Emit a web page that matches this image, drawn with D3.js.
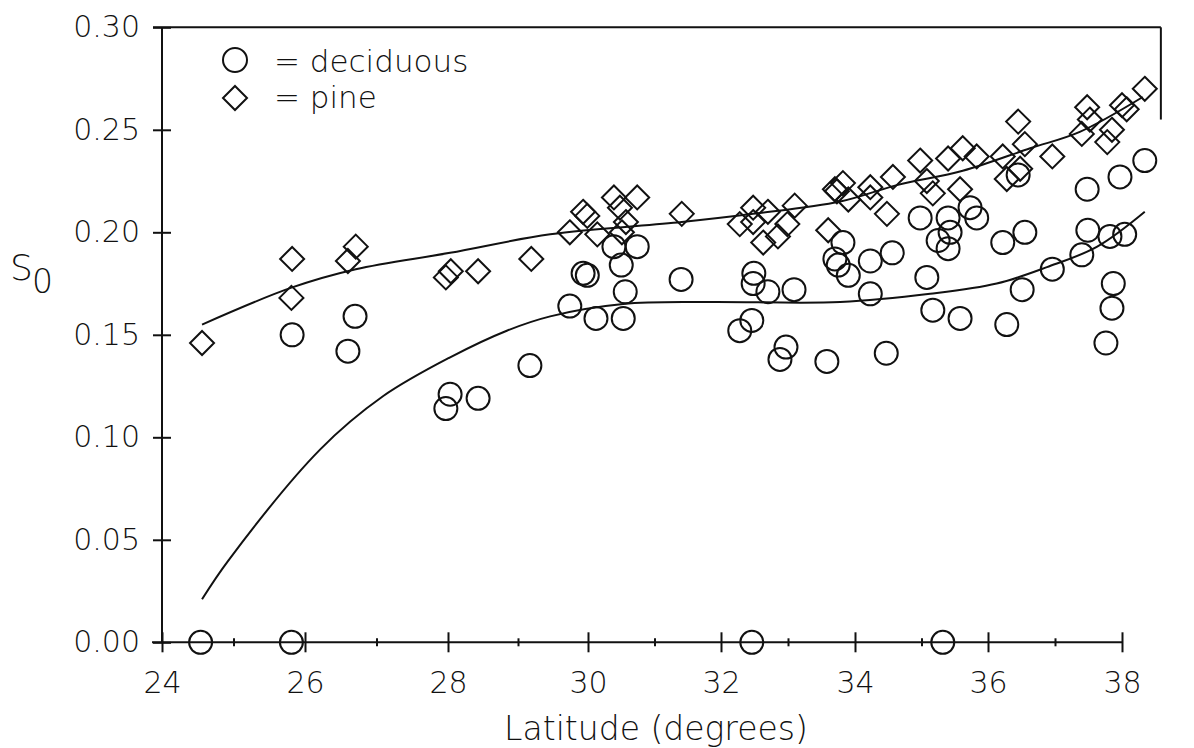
<!DOCTYPE html>
<html>
<head>
<meta charset="utf-8">
<script src="https://cdn.jsdelivr.net/npm/d3@7"></script>
<style>
  html, body { margin: 0; background: #fff; }
  text { font-family: "DejaVu Sans", sans-serif; font-weight: 200; fill: #111; }
</style>
</head>
<body>
<svg id="chart" width="1194" height="748"></svg>
<script>
// Deciduous stands: latitude (degrees) and S0
const decidLat = [24.54, 25.81, 32.46, 35.32, 25.82, 26.60, 26.70, 27.97, 28.03, 28.43,
  29.17, 29.74, 29.93, 29.99, 30.12, 30.39, 30.74, 30.50, 30.56, 30.53,
  31.40, 32.28, 32.49, 32.48, 32.70, 32.46, 32.97, 32.88, 33.09, 33.58,
  33.82, 33.70, 33.75, 33.90, 34.23, 34.23, 34.56, 34.47, 34.98, 35.40,
  35.43, 35.25, 35.40, 35.08, 35.73, 35.83, 36.22, 36.55, 36.45, 35.17,
  35.58, 36.28, 36.51, 36.96, 37.40, 37.49, 37.82, 38.04, 37.48, 37.97,
  38.34, 37.87, 37.85, 37.76];
const decidS0 = [0.000, 0.000, 0.000, 0.000, 0.150, 0.142, 0.159, 0.114, 0.121, 0.119,
  0.135, 0.164, 0.180, 0.179, 0.158, 0.193, 0.193, 0.184, 0.171, 0.158,
  0.177, 0.152, 0.180, 0.175, 0.171, 0.157, 0.144, 0.138, 0.172, 0.137,
  0.195, 0.187, 0.184, 0.179, 0.186, 0.170, 0.190, 0.141, 0.207, 0.207,
  0.200, 0.196, 0.192, 0.178, 0.212, 0.207, 0.195, 0.200, 0.228, 0.162,
  0.158, 0.155, 0.172, 0.182, 0.189, 0.201, 0.198, 0.199, 0.221, 0.227,
  0.235, 0.175, 0.163, 0.146];

// Pine stands: latitude (degrees) and S0
const pineLat = [24.56, 25.81, 25.82, 26.60, 26.71, 27.97, 28.04, 28.43, 29.19, 29.74,
  29.93, 29.99, 30.14, 30.39, 30.48, 30.74, 30.57, 30.51, 31.41, 32.28,
  32.48, 32.48, 32.70, 33.10, 32.99, 32.85, 32.63, 33.60, 33.70, 33.82,
  33.73, 33.90, 34.23, 34.23, 34.57, 34.48, 34.98, 35.08, 35.17, 35.40,
  35.62, 35.83, 35.58, 36.22, 36.45, 36.55, 36.48, 36.28, 36.96, 37.48,
  37.52, 37.40, 37.78, 38.00, 38.34, 37.85, 38.07];
const pineS0 = [0.146, 0.168, 0.187, 0.186, 0.193, 0.178, 0.181, 0.181, 0.187, 0.200,
  0.210, 0.208, 0.199, 0.217, 0.212, 0.217, 0.205, 0.200, 0.209, 0.204,
  0.212, 0.205, 0.210, 0.213, 0.204, 0.198, 0.195, 0.201, 0.221, 0.224,
  0.220, 0.216, 0.222, 0.217, 0.227, 0.209, 0.235, 0.225, 0.219, 0.236,
  0.241, 0.237, 0.221, 0.237, 0.254, 0.243, 0.231, 0.226, 0.237, 0.261,
  0.255, 0.248, 0.244, 0.262, 0.270, 0.250, 0.260];

// Fitted curves
const decidFitLat = [24.56, 24.93, 26.21, 27.09, 28.03, 28.84, 29.46, 30.53, 31.79, 33.78, 35.13, 36.13, 36.88, 37.63, 38.34];
const decidFitS0  = [0.021, 0.040, 0.094, 0.120, 0.139, 0.152, 0.159, 0.165, 0.166, 0.166, 0.170, 0.175, 0.183, 0.193, 0.210];
const pineFitLat = [24.56, 25.81, 26.71, 28.03, 29.46, 31.41, 32.48, 33.78, 34.63, 35.62, 36.63, 37.37, 38.31];
const pineFitS0  = [0.155, 0.173, 0.182, 0.190, 0.199, 0.205, 0.209, 0.215, 0.223, 0.230, 0.241, 0.249, 0.266];

// Axis ticks and labels
const latMajor = [24, 26, 28, 30, 32, 34, 36, 38];
const latMinor = [25, 27, 29, 31, 33, 35, 37];
const s0Ticks = [0, 0.05, 0.10, 0.15, 0.20, 0.25, 0.30];
const legendLabels = ["= deciduous", "= pine"];
const xTitle = "Latitude (degrees)";
const frameLatRight = 38.58;

const svg = d3.select("#chart");
const ink = "#111";

// Polylinear latitude scale (spacing along the axis is slightly uneven)
const x = d3.scaleLinear()
  .domain(latMajor)
  .range([162, 305, 448, 588, 721, 855, 988, 1122]);
const y = d3.scaleLinear().domain([0, 0.30]).range([642.3, 27.3]);

// Frame lines: top with a short right edge, left axis, bottom axis line
const frame = svg.append("g").attr("stroke", ink).attr("stroke-width", 2).attr("fill", "none");
frame.append("line").attr("x1", x(24) - 9).attr("x2", x(frameLatRight))
  .attr("y1", y(0.30)).attr("y2", y(0.30));
frame.append("line").attr("x1", x(frameLatRight)).attr("x2", x(frameLatRight))
  .attr("y1", y(0.30)).attr("y2", y(0.255));
frame.append("line").attr("x1", x(24)).attr("x2", x(24)).attr("y1", y(0.30)).attr("y2", y(0));
frame.append("line").attr("x1", x(24) - 10).attr("x2", x(38)).attr("y1", y(0)).attr("y2", y(0));

// Bottom axis: major ticks crossing the line, minor ticks at odd degrees
const gx = svg.append("g").attr("transform", `translate(0,${y(0)})`)
  .call(d3.axisBottom(x).tickValues(latMajor).tickFormat(d3.format("d")).tickSize(10).tickPadding(19));
gx.select(".domain").remove();
gx.selectAll(".tick line").attr("y1", -10).attr("stroke", ink).attr("stroke-width", 2);
gx.selectAll(".tick text").attr("font-size", 30).attr("font-family", null).attr("fill", ink);

const gxm = svg.append("g").attr("transform", `translate(0,${y(0)})`)
  .call(d3.axisBottom(x).tickValues(latMinor).tickFormat("").tickSize(4));
gxm.select(".domain").remove();
gxm.selectAll(".tick line").attr("y1", -4).attr("stroke", ink).attr("stroke-width", 2);

// Left axis
const gy = svg.append("g").attr("transform", `translate(${x(24)},0)`)
  .call(d3.axisLeft(y).tickValues(s0Ticks).tickFormat(d3.format(".2f")).tickSize(9).tickPadding(13));
gy.select(".domain").remove();
gy.selectAll(".tick line").attr("x1", 9).attr("stroke", ink).attr("stroke-width", 2);
gy.selectAll(".tick text").attr("font-size", 30).attr("font-family", null).attr("fill", ink);

// Axis titles
svg.append("text").attr("x", (x(24) + x(38)) / 2 + 14).attr("y", 740)
  .attr("text-anchor", "middle").attr("font-size", 33).text(xTitle);
const yt = svg.append("text").attr("x", 10).attr("y", 280).attr("font-size", 36);
yt.append("tspan").text("S");
yt.append("tspan").attr("x", 32).attr("y", 293).attr("font-size", 33).text("0");

// Fitted curves
const line = d3.line().x(d => x(d[0])).y(d => y(d[1])).curve(d3.curveCatmullRom.alpha(0.5));
const fits = [d3.zip(decidFitLat, decidFitS0), d3.zip(pineFitLat, pineFitS0)];
svg.append("g").selectAll("path").data(fits).join("path")
  .attr("d", line).attr("fill", "none").attr("stroke", ink).attr("stroke-width", 2);

// Markers
const diamond = r => `M0,${-r}L${r},0L0,${r}L${-r},0Z`;
svg.append("g").selectAll("circle").data(d3.zip(decidLat, decidS0)).join("circle")
  .attr("cx", d => x(d[0])).attr("cy", d => y(d[1])).attr("r", 11.5)
  .attr("fill", "none").attr("stroke", ink).attr("stroke-width", 2);
svg.append("g").selectAll("path").data(d3.zip(pineLat, pineS0)).join("path")
  .attr("transform", d => `translate(${x(d[0])},${y(d[1])})`)
  .attr("d", diamond(12))
  .attr("fill", "none").attr("stroke", ink).attr("stroke-width", 2);

// Legend
const lg = svg.append("g");
lg.append("circle").attr("cx", 235).attr("cy", 60).attr("r", 12)
  .attr("fill", "none").attr("stroke", ink).attr("stroke-width", 2);
lg.append("path").attr("transform", "translate(235,98)").attr("d", diamond(12))
  .attr("fill", "none").attr("stroke", ink).attr("stroke-width", 2);
lg.selectAll("text").data(legendLabels).join("text")
  .attr("x", 274).attr("y", (d, i) => 72 + i * 36).attr("font-size", 31)
  .attr("xml:space", "preserve").text(d => d);
</script>
</body>
</html>
